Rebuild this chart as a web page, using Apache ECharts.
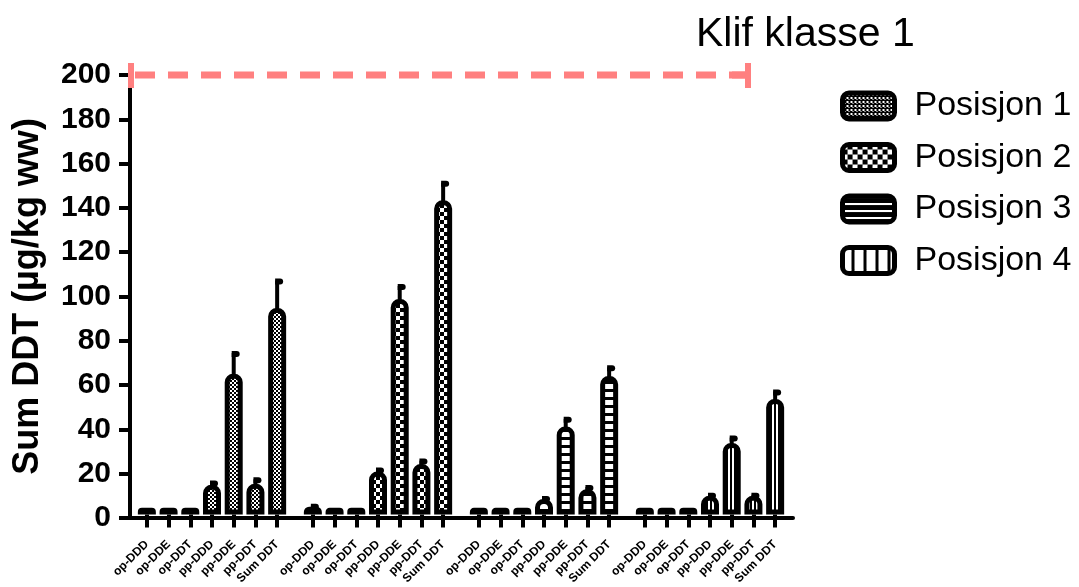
<!DOCTYPE html>
<html>
<head>
<meta charset="utf-8">
<script src="https://cdn.jsdelivr.net/npm/echarts@6/dist/echarts.min.js"></script>
<style>html,body{margin:0;padding:0;background:#fff}#c{width:1079px;height:587px}</style>
</head>
<body>
<div id="c"></div>
<script>
// ---- data ----
const categories = ['op-DDD','op-DDE','op-DDT','pp-DDD','pp-DDE','pp-DDT','Sum DDT'];
const seriesNames = ['Posisjon 1','Posisjon 2','Posisjon 3','Posisjon 4'];
const pos1 = [3, 3, 3, 13.5, 64, 14, 94];
const pos2 = [3.5, 3, 3, 19.5, 98, 23, 143];
const pos3 = [3, 3, 3, 7, 40, 11.5, 63];
const pos4 = [3, 3, 3, 8.5, 32.5, 8.5, 52.5];
const sd1 = [0, 0, 0, 1, 9.5, 2, 12.5];
const sd2 = [0.5, 0, 0, 1, 6, 1.5, 8];
const sd3 = [0, 0, 0, 0.5, 3.5, 1, 4];
const sd4 = [0, 0, 0, 0.5, 2.5, 0.5, 3.5];
const yTicks = [0, 20, 40, 60, 80, 100, 120, 140, 160, 180, 200];
const klifValue = [200];
const klifLabel = 'Klif klasse 1';
const yTitle = 'Sum DDT (\u00b5g/kg ww)';

const values = [pos1, pos2, pos3, pos4];
const sds = [sd1, sd2, sd3, sd4];

// ---- patterns ----
function makeCanvas(w, h, draw) {
  const c = document.createElement('canvas');
  c.width = w; c.height = h;
  const g = c.getContext('2d');
  g.fillStyle = '#000'; g.fillRect(0, 0, w, h);
  g.fillStyle = '#fff';
  draw(g);
  return { image: c, repeat: 'repeat' };
}
const patterns = [
  makeCanvas(4, 4, g => { g.fillRect(0, 0, 2, 2); g.fillRect(2, 2, 2, 2); }),
  makeCanvas(8, 8, g => { g.fillRect(0, 0, 4, 4); g.fillRect(4, 4, 4, 4); }),
  makeCanvas(4, 8, g => { g.fillRect(0, 0, 4, 5); }),
  makeCanvas(4, 4, g => { g.fillRect(0, 0, 2, 4); })
];
const legendPatterns = [
  makeCanvas(4, 4, g => { g.fillRect(0, 0, 2, 2); g.fillRect(2, 2, 1, 1); }),
  makeCanvas(10, 10, g => { g.fillRect(0, 0, 5, 5); g.fillRect(5, 5, 5, 5); }),
  makeCanvas(4, 7, g => { g.fillRect(0, 0, 4, 2); }),
  makeCanvas(12, 4, g => { g.fillRect(0, 0, 9, 4); })
];

const FONT = "'Liberation Sans', Arial, sans-serif";
const gridTop = 75, gridBottom = 69;
const subLefts = [136, 302, 468, 634];
const subWidth = 152;

const grids = [{ left: 130, right: 286, top: gridTop, bottom: gridBottom }];
const xAxes = [{ type: 'value', gridIndex: 0, min: 0, max: 1, axisLine: { show: true, lineStyle: { color: '#000', width: 4 } }, axisTick: { show: false }, axisLabel: { show: false }, splitLine: { show: false } }];
const yAxes = [{
  type: 'value', gridIndex: 0, min: 0, max: 200, interval: 20,
  name: yTitle, nameLocation: 'middle', nameGap: 84, nameRotate: 90,
  nameTextStyle: { fontFamily: FONT, fontWeight: 'bold', fontSize: 36, color: '#000' },
  axisLine: { show: true, lineStyle: { color: '#000', width: 4 } },
  axisTick: { show: true, length: 11, lineStyle: { color: '#000', width: 4 } },
  axisLabel: { fontFamily: FONT, fontWeight: 'bold', fontSize: 30, color: '#000', margin: 19,
    formatter: v => yTicks.includes(v) ? String(v) : '' },
  splitLine: { show: false }
}];
const series = [];

for (let i = 0; i < 4; i++) {
  grids.push({ left: subLefts[i], width: subWidth, top: gridTop, bottom: gridBottom });
  xAxes.push({
    type: 'category', gridIndex: i + 1, data: categories,
    axisLine: { show: false },
    axisTick: { show: true, alignWithLabel: true, length: 13, lineStyle: { color: '#000', width: 4 } },
    axisLabel: { rotate: 45, interval: 0, margin: 28, fontFamily: FONT, fontWeight: 'bold', fontSize: 12, color: '#000' }
  });
  yAxes.push({ type: 'value', gridIndex: i + 1, min: 0, max: 200, show: false, splitLine: { show: false } });
  series.push({
    name: seriesNames[i], type: 'bar', xAxisIndex: i + 1, yAxisIndex: i + 1,
    data: values[i], barWidth: 18,
    itemStyle: { color: patterns[i], borderColor: '#000', borderWidth: 5, borderRadius: [6, 6, 0, 0] },
    z: 3
  });
  const errData = values[i].map((v, k) => [k, v, v + sds[i][k]]);
  series.push({
    name: 'err' + i, type: 'custom', xAxisIndex: i + 1, yAxisIndex: i + 1,
    data: errData, z: 2,
    renderItem: function (params, api) {
      const base = api.coord([api.value(0), api.value(1)]);
      const top = api.coord([api.value(0), api.value(2)]);
      if (api.value(2) <= api.value(1)) return { type: 'group', children: [] };
      return {
        type: 'group', children: [
          { type: 'line', shape: { x1: base[0], y1: base[1] + 4, x2: top[0], y2: top[1] }, style: { stroke: '#000', lineWidth: 4 } },
          { type: 'rect', shape: { x: top[0] - 2, y: top[1] - 2, width: 8, height: 6, r: [0, 3, 3, 0] }, style: { fill: '#000' } }
        ]
      };
    }
  });
}

// Klif threshold line
series.push({
  name: 'klif', type: 'custom', xAxisIndex: 0, yAxisIndex: 0, data: klifValue.map(v => [0, v]), z: 10,
  clip: false,
  renderItem: function (params, api) {
    const y = api.coord([0, api.value(1)])[1];
    const x0 = params.coordSys.x + 1;
    const x1 = params.coordSys.x + 618;
    const col = '#FF8080';
    return {
      type: 'group', children: [
        { type: 'line', shape: { x1: x0 + 4, y1: y, x2: x1 - 3, y2: y }, style: { stroke: col, lineWidth: 7, lineDash: [20, 13] } },
        { type: 'line', shape: { x1: x0, y1: y - 12, x2: x0, y2: y + 13 }, style: { stroke: col, lineWidth: 6 } },
        { type: 'line', shape: { x1: x1, y1: y - 12, x2: x1, y2: y + 13 }, style: { stroke: col, lineWidth: 6 } },
        { type: 'line', shape: { x1: x1 - 16, y1: y, x2: x1, y2: y }, style: { stroke: col, lineWidth: 7 } }
      ]
    };
  }
});

const chart = echarts.init(document.getElementById('c'), null, { renderer: 'canvas' });
chart.setOption({
  animation: false,
  backgroundColor: '#fff',
  title: { text: klifLabel, left: 691, top: 9, textStyle: { fontFamily: FONT, fontWeight: 'normal', fontSize: 41, color: '#000' } },
  legend: {
    orient: 'vertical', left: 835, top: 84, itemWidth: 52, itemHeight: 26, itemGap: 17.5,
    icon: 'roundRect',
    data: seriesNames.map((n, i) => ({ name: n, itemStyle: { color: legendPatterns[i], borderColor: '#000', borderWidth: 5 } })),
    textStyle: { fontFamily: FONT, fontSize: 34, color: '#000', padding: [0, 0, 0, 15] },
    selectedMode: false
  },
  grid: grids,
  xAxis: xAxes,
  yAxis: yAxes,
  series: series
});
</script>
</body>
</html>
